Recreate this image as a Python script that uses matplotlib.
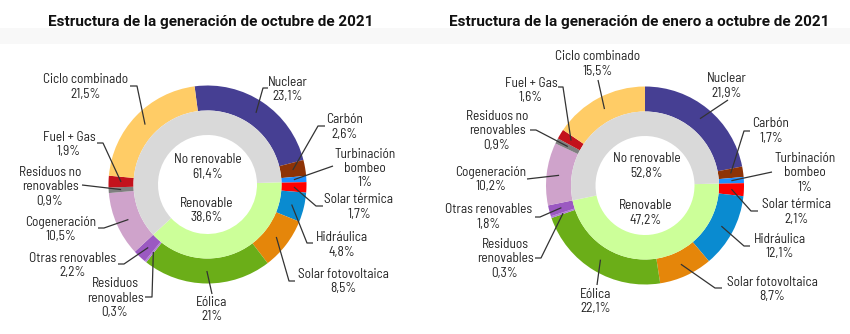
import numpy as np
import matplotlib
matplotlib.use("Agg")
import matplotlib.pyplot as plt

# ---------------- data ----------------
tecnologias = ["Nuclear", "Carbón", "Turbinación\nbombeo", "Solar térmica", "Hidráulica",
               "Solar fotovoltaica", "Eólica", "Residuos\nrenovables", "Otras renovables",
               "Cogeneración", "Residuos no\nrenovables", "Fuel + Gas", "Ciclo combinado"]
renovable_flag = [0, 0, 0, 1, 1, 1, 1, 1, 1, 0, 0, 0, 0]

octubre = [23.1, 2.6, 1.0, 1.7, 4.8, 8.5, 21.0, 0.3, 2.2, 10.5, 0.9, 1.9, 21.5]
octubre_txt = ["23,1%", "2,6%", "1%", "1,7%", "4,8%", "8,5%", "21%", "0,3%", "2,2%",
               "10,5%", "0,9%", "1,9%", "21,5%"]
octubre_inner = [61.4, 38.6]
octubre_inner_txt = ["61,4%", "38,6%"]

ene_oct = [21.9, 1.7, 1.0, 2.1, 12.1, 8.7, 22.1, 0.3, 1.8, 10.2, 0.9, 1.6, 15.5]
ene_oct_txt = ["21,9%", "1,7%", "1%", "2,1%", "12,1%", "8,7%", "22,1%", "0,3%", "1,8%",
               "10,2%", "0,9%", "1,6%", "15,5%"]
ene_oct_inner = [52.8, 47.2]
ene_oct_inner_txt = ["52,8%", "47,2%"]

inner_names = ["No renovable", "Renovable"]
titulos = ["Estructura de la generación de octubre de 2021",
           "Estructura de la generación de enero a octubre de 2021"]

# ---------------- styles ----------------
colores = ["#463F93", "#8E3306", "#1E8FFF", "#FF0000", "#0A8BD0", "#E5860A", "#6BAE18",
           "#B07CD8", "#9B59C1", "#CFA3CB", "#7F7F7F", "#C3121C", "#FFCC66"]
inner_colors = {"gray": "#D9D9D9", "green": "#CCFF99"}
TXT = "#222222"
LINE = "#333333"
LABEL_FONT = ["Barlow Semi Condensed", "DejaVu Sans"]
TITLE_FONT = ["Roboto", "DejaVu Sans"]

W, H = 850, 334
fig = plt.figure(figsize=(8.5, 3.34), dpi=100)
ax = fig.add_axes([0, 0, 1, 1])


def Y(y):
    return H - y


# layout (pixel coords, y from top)
charts = [
    dict(values=octubre, txt=octubre_txt, inner=octubre_inner, inner_txt=octubre_inner_txt,
         center=(207.5, 184.5), start=97.5, title_xy=(211, 22),
         inner_label_xy=[(208, 167), (207, 210.5)],
         labels=[
             ((288, 89.5), [(268, 88), (263, 88)]),
             ((345, 127), [(325, 126), (318, 126)]),
             ((365, 168.5), [(333, 166)]),
             ((359, 207), [(323, 206), (316, 206)]),
             ((342, 245), [(313, 243), (307, 243)]),
             ((343, 281.5), [(295, 281), (289, 281)]),
             ((212, 309.5), [(212, 294)]),
             ((115, 298), [(145, 297), (152, 297)]),
             ((73, 265.5), [(118, 264), (124, 264)]),
             ((61, 229.5), [(98, 228), (104, 228)]),
             ((50, 186.5), [(82, 185)]),
             ((69, 144.5), [(97, 143), (103, 143)]),
             ((86, 87), [(130, 86), (137, 86)]),
         ]),
    dict(values=ene_oct, txt=ene_oct_txt, inner=ene_oct_inner, inner_txt=ene_oct_inner_txt,
         center=(645, 185.5), start=90.0, title_xy=(639, 22),
         inner_label_xy=[(647, 166), (646, 213)],
         labels=[
             ((727, 86), [(728, 100)]),
             ((771, 131), [(750, 131), (744, 131)]),
             ((805, 173), [(772, 172)]),
             ((797, 212), [(758, 211), (751, 211)]),
             ((780, 246.5), [(750, 246), (744, 246)]),
             ((772, 289.5), [(722, 288), (715, 288)]),
             ((596, 301.5), [(597, 285)]),
             ((505, 259), [(535, 258), (541, 258)]),
             ((489, 217), [(535, 217), (540, 217)]),
             ((491, 179.5), [(527, 179)]),
             ((497, 131), [(530, 130), (536, 130)]),
             ((531, 90.5), [(558, 87), (563, 87)]),
             ((598, 64), [(598, 80)]),
         ]),
]

R_OUT, R_MID, R_IN = 99.0, 74.0, 49.5

# faint title band
ax.axhspan(Y(44), Y(28), color="#F8F8F8", zorder=0, lw=0)

for k, ch in enumerate(charts):
    cx, cy = ch["center"]
    vals = np.array(ch["values"], dtype=float)
    ax.pie(vals, colors=colores, startangle=ch["start"], counterclock=False,
           radius=R_OUT, center=(cx, Y(cy)), frame=True,
           wedgeprops=dict(width=R_OUT - R_MID, linewidth=0))

    # inner ring: Renovable aligned with the renewable block of the outer ring
    flags = np.array(renovable_flag)
    idx = np.where(flags == 1)[0]
    cum_end_ren = vals[: idx[-1] + 1].sum() / vals.sum()
    ren_share = ch["inner"][1] / sum(ch["inner"])
    start_in = ch["start"] - 360 * cum_end_ren + 360 * ren_share
    ax.pie([ch["inner"][1], ch["inner"][0]],
           colors=[inner_colors["green"], inner_colors["gray"]],
           startangle=start_in, counterclock=False, radius=R_MID, center=(cx, Y(cy)),
           frame=True, wedgeprops=dict(width=R_MID - R_IN, linewidth=0))

    # labels with leader lines
    cum = np.cumsum(vals) - vals / 2
    mids = ch["start"] - 360 * cum / vals.sum()
    r_anchor = (R_OUT + R_MID) / 2
    for i, ((tx, ty), pts) in enumerate(ch["labels"]):
        ang = np.deg2rad(mids[i])
        axx = cx + r_anchor * np.cos(ang)
        ayy = Y(cy) + r_anchor * np.sin(ang)
        xs = [p[0] for p in pts] + [axx]
        ys = [Y(p[1]) for p in pts] + [ayy]
        ax.plot(xs, ys, color=LINE, lw=0.9, solid_capstyle="butt", zorder=5)
        ax.text(tx, Y(ty), tecnologias[i] + "\n" + ch["txt"][i], ha="center", va="center",
                fontsize=9.6, color=TXT, family=LABEL_FONT, linespacing=1.15, zorder=6)

    for j, (lx, ly) in enumerate(ch["inner_label_xy"]):
        ax.text(lx, Y(ly), inner_names[j] + "\n" + ch["inner_txt"][j], ha="center",
                va="center", fontsize=9.6, color=TXT, family=LABEL_FONT, linespacing=1.15,
                zorder=6)

    tx, ty = ch["title_xy"]
    ax.text(tx, Y(ty), titulos[k], ha="center", va="center", fontsize=11,
            fontweight="bold", color="#111111", family=TITLE_FONT)

ax.set_xlim(0, W)
ax.set_ylim(0, H)
ax.set_aspect("auto")
ax.axis("off")
fig.savefig("out.png", dpi=100, facecolor="white")
